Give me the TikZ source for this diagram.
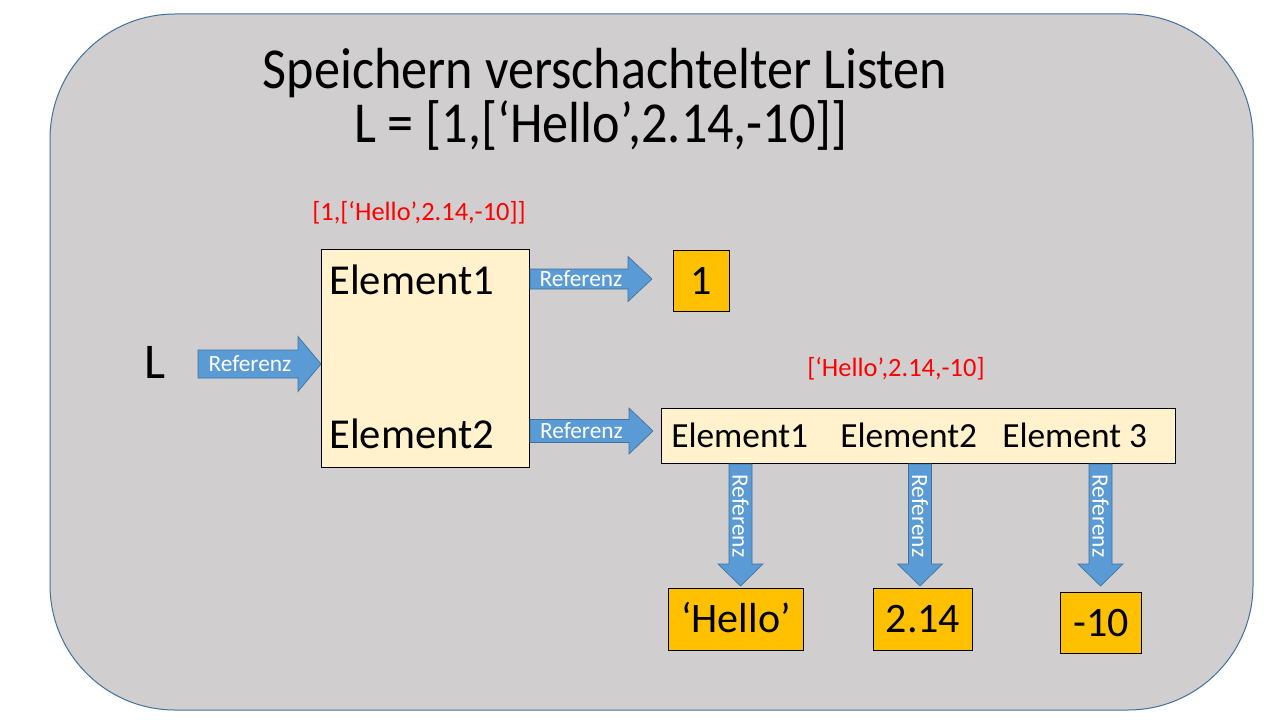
\documentclass[tikz,border=0pt]{standalone}
\usepackage{fontspec}
\setmainfont{Carlito}
\usetikzlibrary{positioning}

\definecolor{panelgray}{HTML}{D0CECE}
\definecolor{panelline}{HTML}{41719C}
\definecolor{arrowblue}{HTML}{5B9BD5}
\definecolor{cellyellow}{HTML}{FFF2CC}
\definecolor{valorange}{HTML}{FFC000}
\definecolor{listred}{HTML}{FF0000}

\begin{document}
\begin{tikzpicture}[x=0.75pt,y=-0.75pt]
    \tikzset{
        listbox/.style={draw=black, fill=cellyellow, line width=0.75pt, inner sep=0pt, anchor=north west},
        valbox/.style={draw=black, fill=valorange, line width=0.75pt, inner sep=0pt, anchor=north west,
            text height=20.2pt, text depth=0pt, font=\fontsize{31.5}{36}\selectfont},
        eltext/.style={inner sep=0pt, anchor=base west, font=\fontsize{32}{36}\selectfont},
        subtext/.style={inner sep=0pt, anchor=base west, font=\fontsize{26.5}{30}\selectfont},
        redlabel/.style={inner sep=0pt, anchor=base west, text=listred, font=\fontsize{19.8}{24}\selectfont},
        % length, half shaft, half head, head length (all in px)
        pics/refpfeil/.style n args={4}{code={
            \draw[fill=arrowblue, draw=panelline, line width=0.5pt] (0,-#2) -- ({#1-#4},-#2) -- ({#1-#4},-#3)
                -- (#1,0) -- ({#1-#4},#3) -- ({#1-#4},#2) -- (0,#2) -- cycle;
            \node[transform shape, inner sep=0pt, text=white, font=\fontsize{17.5}{20}\selectfont] (-label)
                at ({(#1-#4)/2+2},0) {Referenz};
        }}
    }
    \useasboundingbox[fill=white] (0,0) rectangle (1280,720);
    \draw[fill=panelgray, draw=panelline, line width=0.75pt, rounded corners=93.75pt] (50,14) rectangle (1253,710);

    % title
    \node[inner sep=0pt, anchor=base, xscale=0.9, font=\fontsize{43.5}{50}\selectfont] (title) at (605,89) {Speichern verschachtelter Listen};
    \node[inner sep=0pt, anchor=base, xscale=0.9, font=\fontsize{43.5}{50}\selectfont] (titlelist) at (601,143) {L = [1,[‘Hello’,2.14,-10]]};

    % outer list
    \node[inner sep=0pt, anchor=base west, font=\fontsize{37.5}{42}\selectfont] (lname) at (144,378) {L};
    \node[redlabel] (outerlabel) at (312,221) {[1,[‘Hello’,2.14,-10]]};
    \node[listbox, minimum width=156pt, minimum height=163.5pt] (list1) at (321,249) {};
    \node[eltext] (l1e1) at (329,294) {Element1};
    \node[eltext] (l1e2) at (329,448) {Element2};
    \node[valbox, minimum width=42pt, minimum height=45.75pt] (one) at (673,250) {1};

    % inner list
    \node[redlabel] (innerlabel) at (807,376) {[‘Hello’,2.14,-10]};
    \node[listbox, minimum width=385.5pt, minimum height=41.25pt] (list2) at (661,408) {};
    \node[subtext] (l2e1) at (671,447) {Element1};
    \node[subtext] (l2e2) at (840,447) {Element2};
    \node[subtext] (l2e3) at (1002,447) {Element 3};
    \node[valbox, minimum width=101.25pt, minimum height=46.5pt] (hello) at (668,588) {‘Hello’};
    \node[valbox, minimum width=74.25pt, minimum height=46.5pt] (twofourteen) at (873,588) {2.14};
    \node[valbox, minimum width=60.75pt, minimum height=45.75pt] (minusten) at (1060,592) {-10};

    % references
    \pic (refL) at ([xshift=-92.25pt]list1.west |- 0,364) {refpfeil={123}{14}{27.5}{23}};
    \pic (refone) at (list1.east |- 0,279) {refpfeil={122}{10}{22.5}{24}};
    \pic (reflist) at (list1.east |- 0,431) {refpfeil={123}{11.5}{23}{24}};
    \foreach \x/\n in {740.5/refhello, 920/reftwo, 1100.5/refminus}
        \pic[rotate=-90] (\n) at (list2.south -| \x,0) {refpfeil={122}{11.5}{22.5}{22}};
\end{tikzpicture}
\end{document}
